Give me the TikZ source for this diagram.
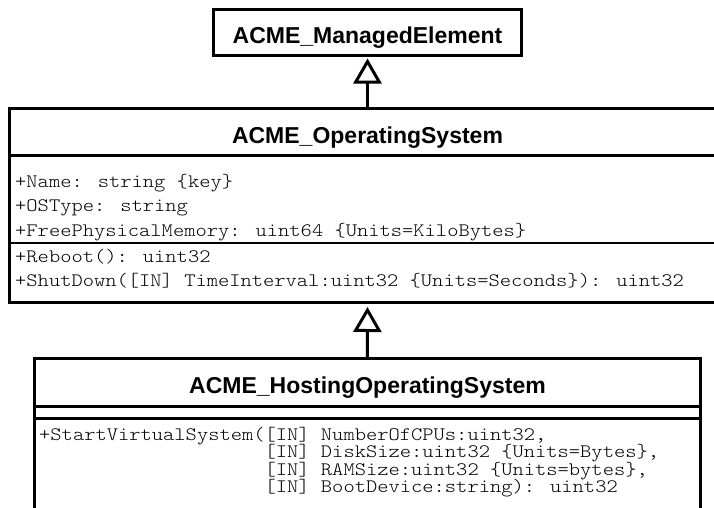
\documentclass[tikz,border=0pt]{standalone}
\usepackage{fontspec}
\newfontfamily\headfont{Liberation Sans}
\newfontfamily\codefont{lmmonolt10-regular.otf}[FakeStretch=1.13]
\usetikzlibrary{arrows.meta}

\tikzset{
  classbox/.style={draw, rectangle, inner sep=0pt, outer sep=0pt, anchor=north west, line width=3pt},
  divider/.style={line width=3pt},
  thindivider/.style={line width=2pt},
  classname/.style={anchor=base, inner sep=0pt, font=\headfont\bfseries\fontsize{23}{27}\selectfont},
  member/.style={anchor=base west, inner sep=0pt, font=\codefont\fontsize{19}{21}\selectfont},
  generalization/.style={line width=3pt, -{Triangle[open, length=25pt, width=28pt]}}
}

\begin{document}
\begin{tikzpicture}[x=1pt, y=-1pt]
\useasboundingbox (0,0) rectangle (714,507);
\fill[white] (0,0) rectangle (714,507);
\clip (0,0) rectangle (714,507);

% ---- ACME_ManagedElement ----
\node[classbox, minimum width=308pt, minimum height=45.5pt] (me) at (213.5,9.5) {};
\node[classname] (metitle) at (367.5,43) {ACME\_ManagedElement};

% ---- ACME_OperatingSystem ----
\node[classbox, minimum width=716pt, minimum height=193.5pt] (os) at (9.5,108.5) {};
\node[classname] (ostitle) at (367.5,143) {ACME\_OperatingSystem};
\draw[divider] (os.west |- 0,155) -- (os.east |- 0,155);
\draw[thindivider] (os.west |- 0,242.5) -- (os.east |- 0,242.5);
\node[member] (a1) at (15,187) {+Name: string \{key\}};
\node[member] (a2) at (15,211.5) {+OSType: string};
\node[member] (a3) at (15,236) {+FreePhysicalMemory: uint64 \{Units=KiloBytes\}};
\node[member] (m1) at (15,262) {+Reboot(): uint32};
\node[member] (m2) at (15,286.5) {+ShutDown([IN] TimeInterval:uint32 \{Units=Seconds\}): uint32};

% ---- ACME_HostingOperatingSystem ----
\node[classbox, minimum width=665.5pt, minimum height=170pt] (hos) at (34.5,358.5) {};
\node[classname] (hostitle) at (367.5,393) {ACME\_HostingOperatingSystem};
\draw[divider] (hos.west |- 0,406) -- (hos.east |- 0,406);
\draw[divider] (hos.west |- 0,418) -- (hos.east |- 0,418);
\node[member] (h1) at (39,440) {+StartVirtualSystem([IN] NumberOfCPUs:uint32,};
\node[member] (h2) at (39,457.5) {\phantom{+StartVirtualSystem(}[IN] DiskSize:uint32 \{Units=Bytes\},};
\node[member] (h3) at (39,475) {\phantom{+StartVirtualSystem(}[IN] RAMSize:uint32 \{Units=bytes\},};
\node[member] (h4) at (39,492.5) {\phantom{+StartVirtualSystem(}[IN] BootDevice:string): uint32};

% ---- inheritance ----
\draw[generalization] (os.north) -- ([yshift=-3.5pt]me.south);
\draw[generalization] (hos.north) -- ([yshift=-5pt]os.south);
\end{tikzpicture}
\end{document}
